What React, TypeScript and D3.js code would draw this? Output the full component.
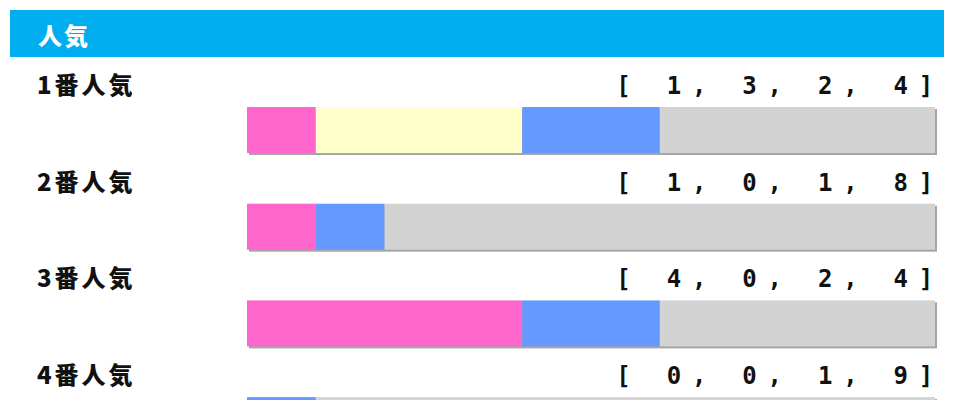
import React from "react";
import * as d3 from "d3";

const title = "人気";
const categories = ["1番人気", "2番人気", "3番人気", "4番人気"];
const firstPlace = [1, 1, 4, 0];
const secondPlace = [3, 0, 0, 0];
const thirdPlace = [2, 1, 2, 1];
const outOfPlace = [4, 8, 4, 9];
const seriesColors = ["#ff66cc", "#ffffcc", "#6699ff", "#d3d3d3"];

const W = 980;
const H = 400;

export default function App() {
  const x = d3.scaleLinear().domain([0, 10]).range([247, 935]);
  const rowY = d3
    .scaleLinear()
    .domain([0, 1])
    .range([0, 96.7]);
  const series = [firstPlace, secondPlace, thirdPlace, outOfPlace];
  const sansFont = "'Noto Sans CJK JP', 'Noto Sans', sans-serif";
  const monoFont = "'DejaVu Sans Mono', 'Liberation Mono', monospace";

  return (
    <svg
      width={W}
      height={H}
      style={{ position: "absolute", left: 0, top: 0, display: "block", background: "#fff" }}
    >
      <rect x={0} y={0} width={W} height={H} fill="#fff" />
      <rect x={10} y={10} width={934} height={47} fill="#00aeef" />
      <text
        x={38}
        y={45}
        fill="#fff"
        fontFamily={sansFont}
        fontWeight={900}
        fontSize={24}
        letterSpacing={2}
      >
        {title}
      </text>
      {categories.map((cat, i) => {
        const base = rowY(i);
        const labelY = 94 + base;
        const barY = 107 + base;
        const barH = 46;
        const vals = series.map((s) => s[i]);
        const stack = d3.cumsum(vals);
        const str = `[ ${vals.join(", ")}]`;
        const pitch = 25.2;
        const lastX = 926;
        const xs = str.split("").map((_, k) => lastX - (str.length - 1 - k) * pitch);
        return (
          <g key={cat}>
            <text
              x={37}
              y={labelY}
              fill="#111"
              fontFamily={sansFont}
              fontWeight={900}
              fontSize={24}
              letterSpacing={3}
            >
              {cat}
            </text>
            <text
              x={xs.join(" ")}
              y={labelY}
              fill="#111"
              fontFamily={monoFont}
              fontWeight={700}
              fontSize={24}
              textAnchor="middle"
            >
              {str}
            </text>
            <rect
              x={x(0) + 2}
              y={barY + 2}
              width={x(10) - x(0)}
              height={barH}
              fill="#a6a6a6"
            />
            {vals.map((v, j) => {
              const start = j === 0 ? 0 : stack[j - 1];
              if (v === 0) return null;
              return (
                <rect
                  key={j}
                  x={x(start)}
                  y={barY}
                  width={x(start + v) - x(start)}
                  height={barH}
                  fill={seriesColors[j]}
                />
              );
            })}
          </g>
        );
      })}
    </svg>
  );
}
